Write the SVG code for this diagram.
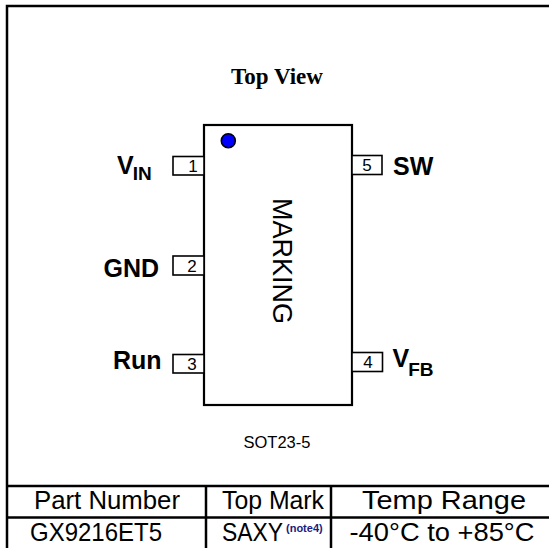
<svg xmlns="http://www.w3.org/2000/svg" width="549" height="548" viewBox="0 0 549 548">
<defs>
<style>
.ln{stroke:#000;stroke-width:2.5;fill:none}
.body{fill:#fff;stroke:#000;stroke-width:2.2}
.pin{fill:#fff;stroke:#000;stroke-width:1.6}
.pn{font-family:"Liberation Sans",Arial,sans-serif;font-size:17px;fill:#000;text-anchor:middle}
.lbl{font-family:"Liberation Sans",Arial,sans-serif;font-size:25px;font-weight:bold;fill:#000}
.sub{font-size:19px}
.cell{font-family:"Liberation Sans",Arial,sans-serif;font-size:25px;fill:#000;text-anchor:middle}
</style>
<clipPath id="faint"><rect x="200" y="96.6" width="150" height="2.4"/></clipPath>
</defs>
<rect width="549" height="548" fill="#fff"/>
<g id="frame">
<polyline class="ln" points="7,548 7,6 549,6"/>
</g>
<g id="title">
<text x="277" y="84" text-anchor="middle" font-family="'Liberation Serif','Times New Roman',serif" font-weight="bold" font-size="23" fill="#000">Top View</text>
<text x="275" y="108" text-anchor="middle" font-family="'Liberation Sans',Arial,sans-serif" font-size="11" fill="#000" clip-path="url(#faint)">TOP VIEW</text>
</g>
<g id="package">
<rect class="body" x="204" y="125" width="148" height="280"/>
<circle cx="228.3" cy="140.7" r="7" fill="#0000ff" stroke="#000" stroke-width="1.6"/>
<text transform="translate(273,261) rotate(90)" text-anchor="middle" font-family="'Liberation Sans',Arial,sans-serif" font-size="27" fill="#000">MARKING</text>
</g>
<g id="pin1">
<rect class="pin" x="173" y="156.5" width="31" height="18.5"/>
<text class="pn" x="193" y="172">1</text>
<text class="lbl" x="117" y="173.5" font-size="28">V<tspan class="sub" dx="-1" dy="6">IN</tspan></text>
</g>
<g id="pin2">
<rect class="pin" x="173" y="256" width="31" height="19"/>
<text class="pn" x="192" y="271.5">2</text>
<text class="lbl" x="103.5" y="276.5">GND</text>
</g>
<g id="pin3">
<rect class="pin" x="173" y="354.5" width="31" height="18.5"/>
<text class="pn" x="192" y="370">3</text>
<text class="lbl" x="113" y="369">Run</text>
</g>
<g id="pin4">
<rect class="pin" x="352" y="352.5" width="30.5" height="19"/>
<text class="pn" x="368" y="368">4</text>
<text class="lbl" x="392.5" y="366.5" font-size="28">V<tspan class="sub" dx="-1" dy="9">FB</tspan></text>
</g>
<g id="pin5">
<rect class="pin" x="352" y="155.5" width="30" height="19"/>
<text class="pn" x="367" y="171">5</text>
<text class="lbl" x="393" y="175">SW</text>
</g>
<g id="pkgname">
<text x="277" y="448" text-anchor="middle" font-family="'Liberation Sans',Arial,sans-serif" font-size="16.5" fill="#000">SOT23-5</text>
</g>
<g id="table">
<line class="ln" x1="7" y1="486" x2="549" y2="486"/>
<line class="ln" x1="7" y1="517.5" x2="549" y2="517.5"/>
<line class="ln" x1="206" y1="486" x2="206" y2="548"/>
<line class="ln" x1="331" y1="486" x2="331" y2="548"/>
<text class="cell" x="107" y="509" textLength="146" lengthAdjust="spacingAndGlyphs">Part Number</text>
<text class="cell" x="273" y="509" textLength="102" lengthAdjust="spacingAndGlyphs">Top Mark</text>
<text class="cell" x="444" y="509" font-size="26" textLength="164" lengthAdjust="spacingAndGlyphs">Temp Range</text>
<text class="cell" x="96" y="541" textLength="132" lengthAdjust="spacingAndGlyphs">GX9216ET5</text>
<text class="cell" x="222" y="541" style="text-anchor:start" textLength="61" lengthAdjust="spacingAndGlyphs">SAXY</text>
<text x="286" y="532" font-family="'Liberation Sans',Arial,sans-serif" font-size="11" font-weight="bold" fill="#1a1a80">(note4)</text>
<text class="cell" x="442" y="541" textLength="185" lengthAdjust="spacingAndGlyphs">-40°C to +85°C</text>
</g>
</svg>
